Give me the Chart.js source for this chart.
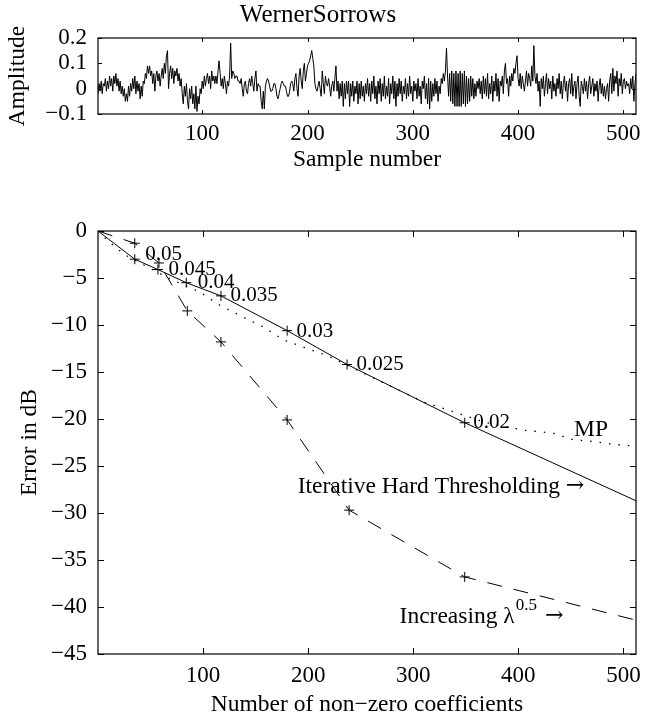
<!DOCTYPE html>
<html>
<head>
<meta charset="utf-8">
<script src="https://cdn.jsdelivr.net/npm/chart.js@4"></script>
<style>
  html, body { margin: 0; padding: 0; background: #fff; }
  #wrap { position: relative; width: 670px; height: 720px; }
  #topChart { position: absolute; left: 0; top: 0; }
  #errChart { position: absolute; left: 0; top: 180px; }
</style>
</head>
<body>
<div id="wrap">
  <canvas id="topChart" width="670" height="180"></canvas>
  <canvas id="errChart" width="670" height="540"></canvas>
</div>
<script>
// fonts - Times look-alike
const SERIF = '"Liberation Serif", "Times New Roman", serif';
Chart.defaults.font.family = SERIF;
Chart.defaults.color = '#000';

// ---- top panel: WernerSorrows signal, samples 1..512 ----
const signal = [
  -0.02, 0.02, -0.01, 0.03, -0.02, 0.02, 0.01, 0.04, -0.01, 0.03, 0.00, 0.05, 0.01, 0.04, -0.01, 0.05,
  0.02, 0.06, 0.01, 0.04, -0.01, 0.03, -0.02, 0.01, -0.03, 0.00, -0.05, -0.02, -0.05, 0.01, -0.03, 0.02,
  -0.01, 0.04, 0.00, 0.05, -0.02, 0.03, -0.01, 0.02, -0.04, 0.01, -0.03, 0.03, 0.02, 0.06, 0.04, 0.09,
  0.06, 0.09, 0.05, 0.07, 0.02, 0.06, -0.01, 0.05, 0.07, 0.03, 0.06, 0.01, 0.05, 0.08, 0.04, 0.10,
  0.06, 0.13, 0.15, 0.00, 0.06, 0.09, 0.04, 0.08, 0.02, 0.07, 0.05, 0.08, 0.03, 0.06, 0.01, 0.04,
  -0.02, -0.06, 0.01, -0.03, 0.02, -0.05, -0.08, 0.00, -0.04, 0.01, -0.06, -0.02, -0.08, 0.01, -0.09, -0.03,
  -0.06, 0.00, -0.02, 0.03, 0.00, 0.05, 0.01, 0.04, 0.06, 0.02, 0.05, 0.00, 0.07, 0.03, 0.05, 0.02,
  0.05, 0.02, 0.07, 0.11, 0.06, 0.01, 0.04, 0.00, 0.05, 0.02, -0.02, 0.03, 0.01, 0.05, 0.18, 0.04,
  0.07, 0.06, 0.04, 0.05, 0.05, 0.03, 0.03, 0.02, 0.04, 0.00, -0.03, 0.02, 0.03, -0.01, -0.02, 0.02,
  0.04, 0.01, 0.05, 0.02, -0.01, 0.04, 0.07, -0.01, 0.02, 0.01, 0.01, -0.05, -0.08, -0.01, -0.08, 0.01,
  0.03, 0.04, 0.03, 0.01, -0.01, -0.01, 0.00, 0.02, 0.02, 0.00, -0.03, -0.04, -0.02, 0.00, 0.02, 0.03,
  0.02, 0.01, 0.01, -0.01, -0.03, -0.03, -0.01, 0.02, 0.03, 0.02, -0.01, 0.04, 0.06, 0.00, -0.03, 0.05,
  0.08, 0.03, 0.00, 0.07, 0.10, 0.03, 0.06, 0.09, 0.10, 0.11, 0.13, 0.15, 0.12, 0.09, 0.02, 0.00,
  -0.01, 0.01, 0.03, 0.00, -0.03, 0.07, 0.02, -0.02, 0.05, 0.02, 0.01, 0.04, 0.01, -0.03, 0.01, 0.03,
  -0.01, 0.04, 0.09, -0.01, 0.03, -0.04, 0.02, -0.03, 0.03, -0.07, 0.02, -0.04, 0.03, -0.02, 0.03, -0.07,
  0.02, -0.03, 0.03, -0.05, 0.01, -0.02, 0.03, -0.06, 0.02, -0.04, 0.03, -0.03, 0.01, -0.05, 0.02, -0.02,
  0.04, -0.03, 0.02, -0.05, 0.03, -0.02, 0.05, -0.04, 0.01, -0.06, 0.03, -0.02, 0.04, -0.05, 0.02, -0.03,
  0.05, -0.04, 0.01, -0.03, 0.04, -0.06, 0.02, -0.02, 0.05, -0.04, 0.03, -0.07, 0.02, -0.03, 0.04, -0.02,
  0.03, -0.05, 0.01, -0.02, 0.04, -0.04, 0.02, -0.03, 0.05, -0.02, 0.01, -0.05, 0.03, -0.01, 0.02, -0.04,
  0.04, -0.03, 0.01, -0.06, 0.03, 0.00, 0.05, -0.04, 0.02, -0.06, 0.04, -0.08, 0.03, -0.05, 0.02, -0.03,
  0.04, -0.02, 0.03, -0.05, 0.01, -0.02, 0.04, 0.02, 0.06, 0.03, 0.07, 0.16, 0.05, -0.03, 0.06, -0.05,
  0.07, -0.06, 0.06, -0.07, 0.07, -0.07, 0.06, -0.07, 0.07, -0.07, 0.06, -0.06, 0.07, -0.07, 0.05, -0.06,
  0.04, -0.05, 0.05, -0.03, 0.04, -0.04, 0.02, -0.03, 0.03, 0.00, 0.04, -0.02, 0.03, -0.04, 0.05, -0.02,
  0.04, -0.03, 0.06, -0.04, 0.02, -0.02, 0.05, -0.05, 0.03, -0.01, 0.06, -0.03, 0.04, -0.05, 0.03, 0.01,
  0.05, -0.02, 0.07, 0.10, 0.02, 0.04, -0.03, 0.05, 0.01, 0.06, 0.03, 0.08, 0.06, 0.10, 0.13, 0.04,
  0.01, 0.06, 0.00, 0.05, 0.02, -0.01, 0.03, 0.07, 0.01, 0.06, 0.04, 0.01, 0.09, 0.03, 0.17, 0.05,
  0.02, 0.06, -0.01, 0.03, -0.07, 0.04, 0.00, 0.05, -0.03, 0.02, 0.06, -0.02, 0.04, 0.00, 0.03, -0.04,
  0.05, -0.01, 0.02, -0.03, 0.04, 0.00, 0.06, -0.02, 0.03, -0.04, 0.02, 0.05, -0.01, 0.03, -0.05, 0.02,
  0.04, -0.02, 0.06, -0.03, 0.01, 0.03, -0.04, 0.02, 0.05, -0.03, -0.07, 0.03, 0.01, -0.02, 0.04, -0.01,
  0.03, -0.04, 0.02, 0.05, -0.02, 0.01, 0.04, -0.03, 0.02, -0.01, 0.03, -0.05, 0.01, 0.04, -0.02, 0.02,
  -0.03, 0.01, -0.04, 0.00, 0.02, -0.05, 0.03, 0.06, -0.02, 0.08, -0.01, 0.05, 0.02, 0.07, -0.03, 0.04,
  0.01, 0.06, -0.02, 0.03, 0.04, 0.00, 0.03, 0.01, 0.02, -0.02, 0.04, 0.00, 0.05, -0.05, 0.02, 0.06
];
const sampleTicks = [100, 200, 300, 400, 500];
const ampTicks = [-0.1, 0, 0.1, 0.2];

// ---- bottom panel: error (dB) vs number of non-zero coefficients ----
const mpX  = [0, 10, 25, 50, 67, 97, 116, 137, 157, 177, 199, 221, 256, 310, 340, 370, 406, 433, 452, 472, 491, 512];
const mpY  = [0, -1.1, -2.5, -4.0, -5.0, -6.5, -7.9, -9.1, -10.2, -11.6, -12.5, -13.4, -15.3, -18.2, -19.3, -20.4, -21.2, -21.5, -22.2, -22.4, -22.7, -22.9];
const ihtX = [0, 35, 57, 84, 117, 180, 237, 349, 512];
const ihtY = [0, -3.0, -4.1, -5.5, -6.9, -10.6, -14.2, -20.4, -28.7];
const incX = [0, 35, 58, 85, 117, 180, 239, 349, 512];
const incY = [0, -1.3, -3.4, -8.5, -11.8, -20.1, -29.7, -36.8, -41.4];
const lambdas = ['0.05', '0.045', '0.04', '0.035', '0.03', '0.025', '0.02'];
const coefTicks = [100, 200, 300, 400, 500];
const errTicks = [-45, -40, -35, -30, -25, -20, -15, -10, -5, 0];

// where the text labels sit (data units, left edge / vertical middle)
const lambdaPos = [[45, -2.45], [67, -4.1], [95, -5.5], [126, -6.9], [189, -10.7], [246, -14.2], [357, -20.4]];
const mpLabelPos = [453, -21.2];
const ihtLabelPos = [190, -27.2];
const incLabelPos = [287, -41.0];

function minus(v) {
  return v < 0 ? '\u2212' + String(Math.abs(v)) : String(v);
}
function pts(xs, ys) { return xs.map((x, i) => ({x: x, y: ys[i]})); }

// matlab style box with inward ticks on all four sides
const boxTicks = {
  id: 'boxTicks',
  afterDraw(chart, args, opts) {
    const {ctx, chartArea: a, scales: {x, y}} = chart;
    const len = opts.len || 5;
    ctx.save();
    ctx.strokeStyle = '#000';
    ctx.lineWidth = 1.2;
    ctx.strokeRect(a.left, a.top, a.right - a.left, a.bottom - a.top);
    ctx.lineWidth = 1;
    ctx.beginPath();
    x.ticks.forEach(t => {
      const px = Math.round(x.getPixelForValue(t.value)) + 0.5;
      ctx.moveTo(px, a.bottom); ctx.lineTo(px, a.bottom - len);
      ctx.moveTo(px, a.top); ctx.lineTo(px, a.top + len);
    });
    y.ticks.forEach(t => {
      const py = Math.round(y.getPixelForValue(t.value)) + 0.5;
      ctx.moveTo(a.left, py); ctx.lineTo(a.left + len, py);
      ctx.moveTo(a.right, py); ctx.lineTo(a.right - len, py);
    });
    ctx.stroke();
    ctx.restore();
  }
};

const tickFont = {family: SERIF, size: 23};
const titleFont = {family: SERIF, size: 23.5};
const ARROW_FONT = '"DejaVu Serif", serif';

new Chart(document.getElementById('topChart'), {
  type: 'line',
  data: {
    datasets: [{
      data: pts(signal.map((v, i) => i + 1), signal),
      borderColor: '#000',
      borderWidth: 1,
      pointRadius: 0,
      tension: 0
    }]
  },
  options: {
    responsive: false,
    animation: false,
    layout: {padding: {left: 0, right: 34, top: 0, bottom: 0}},
    plugins: {
      legend: {display: false},
      tooltip: {enabled: false},
      title: {
        display: true, text: 'WernerSorrows', color: '#000',
        font: {family: SERIF, size: 25, weight: 'normal'},
        padding: {top: 0, bottom: 8}
      },
      boxTicks: {len: 4}
    },
    scales: {
      x: {
        type: 'linear', min: 1, max: 512,
        afterFit: s => { s.height = 66; },
        afterBuildTicks: s => { s.ticks = sampleTicks.map(v => ({value: v})); },
        grid: {display: false, drawTicks: false},
        border: {display: false},
        ticks: {font: tickFont, padding: 6, maxRotation: 0, autoSkip: false, callback: v => minus(v)},
        title: {display: true, text: 'Sample number', font: titleFont, padding: {top: 0, bottom: 6}}
      },
      y: {
        type: 'linear', min: -0.1, max: 0.2,
        afterFit: s => { s.width = 98; },
        afterBuildTicks: s => { s.ticks = ampTicks.map(v => ({value: v})); },
        grid: {display: false, drawTicks: false},
        border: {display: false},
        ticks: {font: tickFont, padding: 11, autoSkip: false, callback: v => minus(Math.round(v * 10) / 10)},
        title: {display: true, text: 'Amplitude', font: titleFont, padding: {top: 4, bottom: 0}}
      }
    }
  },
  plugins: [boxTicks]
});

// text on the error plot
const errText = {
  id: 'errText',
  afterDatasetsDraw(chart) {
    const {ctx, scales: {x, y}} = chart;
    ctx.save();
    ctx.fillStyle = '#000';
    ctx.textAlign = 'left';
    ctx.textBaseline = 'middle';
    ctx.font = '21px ' + SERIF;
    lambdas.forEach((t, i) => {
      ctx.fillText(t, x.getPixelForValue(lambdaPos[i][0]), y.getPixelForValue(lambdaPos[i][1]));
    });
    ctx.font = '23.5px ' + SERIF;
    ctx.fillText('MP', x.getPixelForValue(mpLabelPos[0]), y.getPixelForValue(mpLabelPos[1]));

    let px = x.getPixelForValue(ihtLabelPos[0]);
    let py = y.getPixelForValue(ihtLabelPos[1]);
    const s0 = 'Iterative Hard Thresholding ';
    ctx.fillText(s0, px, py);
    px += ctx.measureText(s0).width;
    ctx.font = '22px ' + ARROW_FONT;
    ctx.fillText('\u2192', px, py);

    px = x.getPixelForValue(incLabelPos[0]);
    py = y.getPixelForValue(incLabelPos[1]);
    const s1 = 'Increasing \u03bb';
    ctx.font = '23.5px ' + SERIF;
    ctx.fillText(s1, px, py);
    px += ctx.measureText(s1).width + 1;
    ctx.font = '17px ' + SERIF;
    ctx.fillText('0.5', px, py - 11);
    px += ctx.measureText('0.5').width + 8;
    ctx.font = '22px ' + ARROW_FONT;
    ctx.fillText('\u2192', px, py);
    ctx.restore();
  }
};

const inner = ctx => (ctx.dataIndex > 0 && ctx.dataIndex < ctx.dataset.data.length - 1) ? 5 : 0;

new Chart(document.getElementById('errChart'), {
  type: 'line',
  data: {
    datasets: [
      { // MP
        data: pts(mpX, mpY), borderColor: '#000', borderWidth: 1.3,
        borderDash: [1.5, 8], pointRadius: 0, tension: 0
      },
      { // iterative hard thresholding
        data: pts(ihtX, ihtY), borderColor: '#000', borderWidth: 1,
        pointStyle: 'cross', pointRadius: inner, pointBorderColor: '#000', pointBorderWidth: 1, tension: 0
      },
      { // increasing lambda^0.5
        data: pts(incX, incY), borderColor: '#000', borderWidth: 1,
        borderDash: [15, 12], pointStyle: 'cross', pointRadius: inner,
        pointBorderColor: '#000', pointBorderWidth: 1, tension: 0
      }
    ]
  },
  options: {
    responsive: false,
    animation: false,
    layout: {padding: {left: 0, right: 34, top: 51, bottom: 0}},
    plugins: {
      legend: {display: false},
      tooltip: {enabled: false},
      boxTicks: {len: 6}
    },
    scales: {
      x: {
        type: 'linear', min: 0, max: 512,
        afterFit: s => { s.height = 66; },
        afterBuildTicks: s => { s.ticks = coefTicks.map(v => ({value: v})); },
        grid: {display: false, drawTicks: false},
        border: {display: false},
        ticks: {font: tickFont, padding: 8, maxRotation: 0, autoSkip: false},
        title: {display: true, text: 'Number of non\u2212zero coefficients', font: titleFont, padding: {top: 0, bottom: 1}}
      },
      y: {
        type: 'linear', min: -45, max: 0,
        afterFit: s => { s.width = 98; },
        afterBuildTicks: s => { s.ticks = errTicks.map(v => ({value: v})); },
        grid: {display: false, drawTicks: false},
        border: {display: false},
        ticks: {font: tickFont, padding: 11, autoSkip: false, callback: v => minus(v)},
        title: {display: true, text: 'Error in dB', font: titleFont, padding: {top: 16, bottom: 0}}
      }
    }
  },
  plugins: [boxTicks, errText]
});
</script>
</body>
</html>
